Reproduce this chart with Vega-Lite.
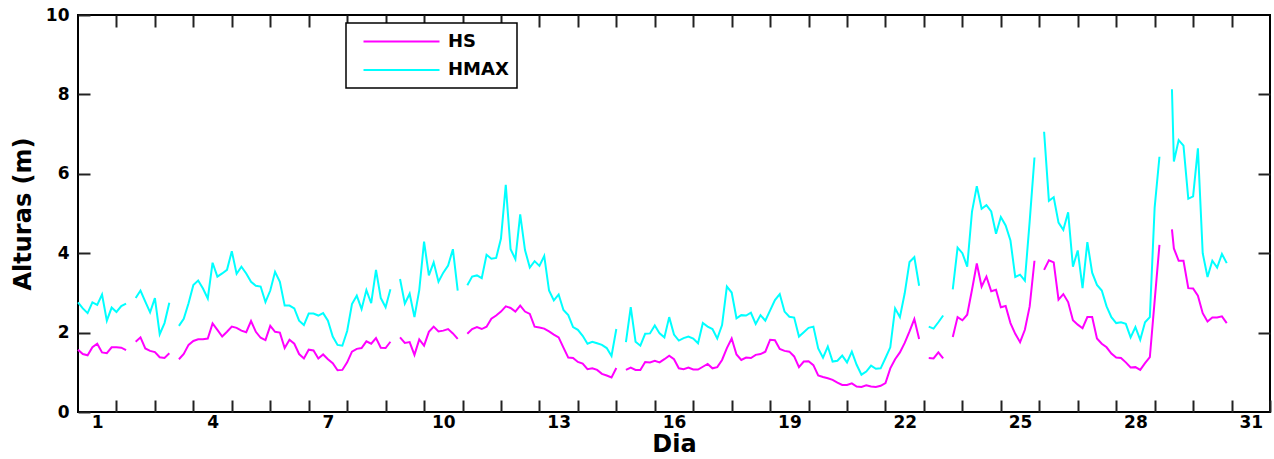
{
"$schema": "https://vega.github.io/schema/vega-lite/v6.json",
"width": 1192, "height": 397,
"autosize": {"type": "none"},
"padding": {"left": 78, "top": 15, "right": 4, "bottom": 47},
"background": "white",
"config": {
 "view": {"stroke": "black", "strokeWidth": 2},
 "font": "DejaVu Sans",
 "axis": {"ticks": true, "labelFont": "DejaVu Sans", "labelFontWeight": "bold", "labelFontSize": 17, "labelColor": "black", "tickColor": "#222222", "tickWidth": 2, "titleFont": "DejaVu Sans", "titleFontWeight": "bold", "titleFontSize": 24, "titleColor": "black", "grid": false, "domain": false}
},
"data": {"values": [
{"t":0.5,"g":1,"HS":1.57,"HMAX":2.76},{"t":0.625,"g":1,"HS":1.46,"HMAX":2.61},{"t":0.75,"g":1,"HS":1.43,"HMAX":2.49},{"t":0.875,"g":1,"HS":1.63,"HMAX":2.76},{"t":1.0,"g":1,"HS":1.72,"HMAX":2.70},{"t":1.125,"g":1,"HS":1.50,"HMAX":2.96},{"t":1.25,"g":1,"HS":1.48,"HMAX":2.30},{"t":1.375,"g":1,"HS":1.63,"HMAX":2.63},{"t":1.5,"g":1,"HS":1.63,"HMAX":2.52},{"t":1.625,"g":1,"HS":1.62,"HMAX":2.67},{"t":1.75,"g":1,"HS":1.56,"HMAX":2.73},
{"t":2.0,"g":2,"HS":1.77,"HMAX":2.87},{"t":2.125,"g":2,"HS":1.88,"HMAX":3.06},{"t":2.25,"g":2,"HS":1.60,"HMAX":2.78},{"t":2.375,"g":2,"HS":1.54,"HMAX":2.51},{"t":2.5,"g":2,"HS":1.51,"HMAX":2.87},{"t":2.625,"g":2,"HS":1.38,"HMAX":1.96},{"t":2.75,"g":2,"HS":1.36,"HMAX":2.24},{"t":2.875,"g":2,"HS":1.48,"HMAX":2.75},
{"t":3.125,"g":3,"HS":1.33,"HMAX":2.17},{"t":3.25,"g":3,"HS":1.46,"HMAX":2.35},{"t":3.375,"g":3,"HS":1.69,"HMAX":2.74},{"t":3.5,"g":3,"HS":1.79,"HMAX":3.20},{"t":3.625,"g":3,"HS":1.83,"HMAX":3.31},{"t":3.75,"g":3,"HS":1.83,"HMAX":3.11},{"t":3.875,"g":3,"HS":1.85,"HMAX":2.86},{"t":4.0,"g":3,"HS":2.23,"HMAX":3.76},{"t":4.125,"g":3,"HS":2.07,"HMAX":3.41},{"t":4.25,"g":3,"HS":1.90,"HMAX":3.49},{"t":4.375,"g":3,"HS":2.02,"HMAX":3.58},{"t":4.5,"g":3,"HS":2.15,"HMAX":4.05},{"t":4.625,"g":3,"HS":2.12,"HMAX":3.48},{"t":4.75,"g":3,"HS":2.05,"HMAX":3.66},{"t":4.875,"g":3,"HS":2.01,"HMAX":3.49},{"t":5.0,"g":3,"HS":2.29,"HMAX":3.28},{"t":5.125,"g":3,"HS":2.02,"HMAX":3.18},{"t":5.25,"g":3,"HS":1.87,"HMAX":3.16},{"t":5.375,"g":3,"HS":1.81,"HMAX":2.77},{"t":5.5,"g":3,"HS":2.17,"HMAX":3.06},{"t":5.625,"g":3,"HS":2.02,"HMAX":3.53},{"t":5.75,"g":3,"HS":2.00,"HMAX":3.28},{"t":5.875,"g":3,"HS":1.61,"HMAX":2.68},{"t":6.0,"g":3,"HS":1.82,"HMAX":2.68},{"t":6.125,"g":3,"HS":1.72,"HMAX":2.61},{"t":6.25,"g":3,"HS":1.46,"HMAX":2.30},{"t":6.375,"g":3,"HS":1.35,"HMAX":2.19},{"t":6.5,"g":3,"HS":1.57,"HMAX":2.48},{"t":6.625,"g":3,"HS":1.55,"HMAX":2.48},{"t":6.75,"g":3,"HS":1.35,"HMAX":2.43},{"t":6.875,"g":3,"HS":1.45,"HMAX":2.49},{"t":7.0,"g":3,"HS":1.33,"HMAX":2.30},{"t":7.125,"g":3,"HS":1.23,"HMAX":1.90},{"t":7.25,"g":3,"HS":1.05,"HMAX":1.69},{"t":7.375,"g":3,"HS":1.06,"HMAX":1.67},{"t":7.5,"g":3,"HS":1.25,"HMAX":2.04},{"t":7.625,"g":3,"HS":1.52,"HMAX":2.72},{"t":7.75,"g":3,"HS":1.59,"HMAX":2.93},{"t":7.875,"g":3,"HS":1.61,"HMAX":2.59},{"t":8.0,"g":3,"HS":1.78,"HMAX":3.07},{"t":8.125,"g":3,"HS":1.72,"HMAX":2.74},{"t":8.25,"g":3,"HS":1.86,"HMAX":3.58},{"t":8.375,"g":3,"HS":1.62,"HMAX":2.87},{"t":8.5,"g":3,"HS":1.61,"HMAX":2.64},{"t":8.625,"g":3,"HS":1.77,"HMAX":3.09},
{"t":8.875,"g":4,"HS":1.88,"HMAX":3.35},{"t":9.0,"g":4,"HS":1.74,"HMAX":2.73},{"t":9.125,"g":4,"HS":1.76,"HMAX":2.98},{"t":9.25,"g":4,"HS":1.44,"HMAX":2.39},{"t":9.375,"g":4,"HS":1.83,"HMAX":3.07},{"t":9.5,"g":4,"HS":1.67,"HMAX":4.29},{"t":9.625,"g":4,"HS":2.02,"HMAX":3.44},{"t":9.75,"g":4,"HS":2.15,"HMAX":3.77},{"t":9.875,"g":4,"HS":2.03,"HMAX":3.28},{"t":10.0,"g":4,"HS":2.05,"HMAX":3.51},{"t":10.125,"g":4,"HS":2.09,"HMAX":3.69},{"t":10.25,"g":4,"HS":1.98,"HMAX":4.10},{"t":10.375,"g":4,"HS":1.84,"HMAX":3.06},
{"t":10.625,"g":5,"HS":1.97,"HMAX":3.19},{"t":10.75,"g":5,"HS":2.09,"HMAX":3.41},{"t":10.875,"g":5,"HS":2.14,"HMAX":3.44},{"t":11.0,"g":5,"HS":2.09,"HMAX":3.37},{"t":11.125,"g":5,"HS":2.15,"HMAX":3.96},{"t":11.25,"g":5,"HS":2.35,"HMAX":3.86},{"t":11.375,"g":5,"HS":2.43,"HMAX":3.88},{"t":11.5,"g":5,"HS":2.53,"HMAX":4.37},{"t":11.625,"g":5,"HS":2.66,"HMAX":5.72},{"t":11.75,"g":5,"HS":2.62,"HMAX":4.10},{"t":11.875,"g":5,"HS":2.53,"HMAX":3.85},{"t":12.0,"g":5,"HS":2.68,"HMAX":4.98},{"t":12.125,"g":5,"HS":2.53,"HMAX":4.08},{"t":12.25,"g":5,"HS":2.47,"HMAX":3.64},{"t":12.375,"g":5,"HS":2.15,"HMAX":3.80},{"t":12.5,"g":5,"HS":2.13,"HMAX":3.68},{"t":12.625,"g":5,"HS":2.10,"HMAX":3.93},{"t":12.75,"g":5,"HS":2.03,"HMAX":3.06},{"t":12.875,"g":5,"HS":1.95,"HMAX":2.81},{"t":13.0,"g":5,"HS":1.88,"HMAX":2.96},{"t":13.125,"g":5,"HS":1.62,"HMAX":2.57},{"t":13.25,"g":5,"HS":1.37,"HMAX":2.44},{"t":13.375,"g":5,"HS":1.36,"HMAX":2.14},{"t":13.5,"g":5,"HS":1.26,"HMAX":2.07},{"t":13.625,"g":5,"HS":1.22,"HMAX":1.92},{"t":13.75,"g":5,"HS":1.08,"HMAX":1.72},{"t":13.875,"g":5,"HS":1.10,"HMAX":1.77},{"t":14.0,"g":5,"HS":1.06,"HMAX":1.73},{"t":14.125,"g":5,"HS":0.96,"HMAX":1.69},{"t":14.25,"g":5,"HS":0.92,"HMAX":1.61},{"t":14.375,"g":5,"HS":0.87,"HMAX":1.41},{"t":14.5,"g":5,"HS":1.11,"HMAX":2.09},
{"t":14.75,"g":6,"HS":1.06,"HMAX":1.76},{"t":14.875,"g":6,"HS":1.12,"HMAX":2.64},{"t":15.0,"g":6,"HS":1.06,"HMAX":1.77},{"t":15.125,"g":6,"HS":1.06,"HMAX":1.67},{"t":15.25,"g":6,"HS":1.26,"HMAX":1.97},{"t":15.375,"g":6,"HS":1.25,"HMAX":1.98},{"t":15.5,"g":6,"HS":1.29,"HMAX":2.18},{"t":15.625,"g":6,"HS":1.25,"HMAX":1.98},{"t":15.75,"g":6,"HS":1.33,"HMAX":1.88},{"t":15.875,"g":6,"HS":1.42,"HMAX":2.39},{"t":16.0,"g":6,"HS":1.33,"HMAX":1.95},{"t":16.125,"g":6,"HS":1.10,"HMAX":1.80},{"t":16.25,"g":6,"HS":1.08,"HMAX":1.86},{"t":16.375,"g":6,"HS":1.12,"HMAX":1.90},{"t":16.5,"g":6,"HS":1.07,"HMAX":1.85},{"t":16.625,"g":6,"HS":1.07,"HMAX":1.73},{"t":16.75,"g":6,"HS":1.14,"HMAX":2.24},{"t":16.875,"g":6,"HS":1.21,"HMAX":2.15},{"t":17.0,"g":6,"HS":1.10,"HMAX":2.09},{"t":17.125,"g":6,"HS":1.13,"HMAX":1.85},{"t":17.25,"g":6,"HS":1.31,"HMAX":2.19},{"t":17.375,"g":6,"HS":1.61,"HMAX":3.16},{"t":17.5,"g":6,"HS":1.85,"HMAX":3.01},{"t":17.625,"g":6,"HS":1.45,"HMAX":2.36},{"t":17.75,"g":6,"HS":1.31,"HMAX":2.44},{"t":17.875,"g":6,"HS":1.37,"HMAX":2.43},{"t":18.0,"g":6,"HS":1.36,"HMAX":2.50},{"t":18.125,"g":6,"HS":1.44,"HMAX":2.22},{"t":18.25,"g":6,"HS":1.46,"HMAX":2.44},{"t":18.375,"g":6,"HS":1.52,"HMAX":2.30},{"t":18.5,"g":6,"HS":1.82,"HMAX":2.56},{"t":18.625,"g":6,"HS":1.81,"HMAX":2.82},{"t":18.75,"g":6,"HS":1.59,"HMAX":2.97},{"t":18.875,"g":6,"HS":1.54,"HMAX":2.53},{"t":19.0,"g":6,"HS":1.52,"HMAX":2.40},{"t":19.125,"g":6,"HS":1.40,"HMAX":2.38},{"t":19.25,"g":6,"HS":1.13,"HMAX":1.90},{"t":19.375,"g":6,"HS":1.27,"HMAX":2.01},{"t":19.5,"g":6,"HS":1.28,"HMAX":2.12},{"t":19.625,"g":6,"HS":1.18,"HMAX":2.15},{"t":19.75,"g":6,"HS":0.92,"HMAX":1.60},{"t":19.875,"g":6,"HS":0.88,"HMAX":1.37},{"t":20.0,"g":6,"HS":0.85,"HMAX":1.65},{"t":20.125,"g":6,"HS":0.81,"HMAX":1.27},{"t":20.25,"g":6,"HS":0.74,"HMAX":1.29},{"t":20.375,"g":6,"HS":0.68,"HMAX":1.42},{"t":20.5,"g":6,"HS":0.68,"HMAX":1.25},{"t":20.625,"g":6,"HS":0.72,"HMAX":1.52},{"t":20.75,"g":6,"HS":0.64,"HMAX":1.19},{"t":20.875,"g":6,"HS":0.63,"HMAX":0.94},{"t":21.0,"g":6,"HS":0.67,"HMAX":1.02},{"t":21.125,"g":6,"HS":0.64,"HMAX":1.17},{"t":21.25,"g":6,"HS":0.63,"HMAX":1.09},{"t":21.375,"g":6,"HS":0.66,"HMAX":1.10},{"t":21.5,"g":6,"HS":0.73,"HMAX":1.36},{"t":21.625,"g":6,"HS":1.10,"HMAX":1.63},{"t":21.75,"g":6,"HS":1.33,"HMAX":2.61},{"t":21.875,"g":6,"HS":1.50,"HMAX":2.39},{"t":22.0,"g":6,"HS":1.74,"HMAX":2.99},{"t":22.125,"g":6,"HS":2.03,"HMAX":3.78},{"t":22.25,"g":6,"HS":2.34,"HMAX":3.90},{"t":22.375,"g":6,"HS":1.84,"HMAX":3.18},
{"t":22.625,"g":7,"HS":1.36,"HMAX":2.15},{"t":22.75,"g":7,"HS":1.35,"HMAX":2.10},{"t":22.875,"g":7,"HS":1.50,"HMAX":2.26},{"t":23.0,"g":7,"HS":1.35,"HMAX":2.43},
{"t":23.25,"g":8,"HS":1.89,"HMAX":3.09},{"t":23.375,"g":8,"HS":2.39,"HMAX":4.14},{"t":23.5,"g":8,"HS":2.31,"HMAX":4.00},{"t":23.625,"g":8,"HS":2.45,"HMAX":3.66},{"t":23.75,"g":8,"HS":3.08,"HMAX":5.05},{"t":23.875,"g":8,"HS":3.74,"HMAX":5.69},{"t":24.0,"g":8,"HS":3.16,"HMAX":5.12},{"t":24.125,"g":8,"HS":3.41,"HMAX":5.21},{"t":24.25,"g":8,"HS":3.04,"HMAX":5.05},{"t":24.375,"g":8,"HS":3.08,"HMAX":4.49},{"t":24.5,"g":8,"HS":2.64,"HMAX":4.91},{"t":24.625,"g":8,"HS":2.67,"HMAX":4.70},{"t":24.75,"g":8,"HS":2.24,"HMAX":4.32},{"t":24.875,"g":8,"HS":1.97,"HMAX":3.40},{"t":25.0,"g":8,"HS":1.76,"HMAX":3.46},{"t":25.125,"g":8,"HS":2.07,"HMAX":3.31},{"t":25.25,"g":8,"HS":2.66,"HMAX":4.80},{"t":25.375,"g":8,"HS":3.81,"HMAX":6.41},
{"t":25.625,"g":9,"HS":3.58,"HMAX":7.06},{"t":25.75,"g":9,"HS":3.82,"HMAX":5.32},{"t":25.875,"g":9,"HS":3.77,"HMAX":5.41},{"t":26.0,"g":9,"HS":2.83,"HMAX":4.77},{"t":26.125,"g":9,"HS":2.97,"HMAX":4.59},{"t":26.25,"g":9,"HS":2.77,"HMAX":5.03},{"t":26.375,"g":9,"HS":2.31,"HMAX":3.66},{"t":26.5,"g":9,"HS":2.20,"HMAX":4.07},{"t":26.625,"g":9,"HS":2.11,"HMAX":3.12},{"t":26.75,"g":9,"HS":2.39,"HMAX":4.28},{"t":26.875,"g":9,"HS":2.39,"HMAX":3.51},{"t":27.0,"g":9,"HS":1.85,"HMAX":3.20},{"t":27.125,"g":9,"HS":1.72,"HMAX":3.06},{"t":27.25,"g":9,"HS":1.63,"HMAX":2.66},{"t":27.375,"g":9,"HS":1.47,"HMAX":2.39},{"t":27.5,"g":9,"HS":1.37,"HMAX":2.24},{"t":27.625,"g":9,"HS":1.36,"HMAX":2.26},{"t":27.75,"g":9,"HS":1.25,"HMAX":2.22},{"t":27.875,"g":9,"HS":1.12,"HMAX":1.88},{"t":28.0,"g":9,"HS":1.13,"HMAX":2.14},{"t":28.125,"g":9,"HS":1.06,"HMAX":1.82},{"t":28.25,"g":9,"HS":1.23,"HMAX":2.26},{"t":28.375,"g":9,"HS":1.38,"HMAX":2.39},{"t":28.5,"g":9,"HS":2.80,"HMAX":5.15},{"t":28.625,"g":9,"HS":4.21,"HMAX":6.43},
{"t":28.95,"g":10,"HS":4.60,"HMAX":8.13},{"t":29.0,"g":10,"HS":4.12,"HMAX":6.31},{"t":29.125,"g":10,"HS":3.81,"HMAX":6.85},{"t":29.25,"g":10,"HS":3.81,"HMAX":6.71},{"t":29.375,"g":10,"HS":3.12,"HMAX":5.37},{"t":29.5,"g":10,"HS":3.11,"HMAX":5.43},{"t":29.625,"g":10,"HS":2.93,"HMAX":6.64},{"t":29.75,"g":10,"HS":2.49,"HMAX":4.00},{"t":29.875,"g":10,"HS":2.28,"HMAX":3.40},{"t":30.0,"g":10,"HS":2.38,"HMAX":3.81},{"t":30.125,"g":10,"HS":2.38,"HMAX":3.64},{"t":30.25,"g":10,"HS":2.41,"HMAX":3.98},{"t":30.375,"g":10,"HS":2.24,"HMAX":3.75}
]},
"transform": [{"fold": ["HS", "HMAX"], "as": ["serie", "altura"]}],
"layer": [
 {
  "mark": {"type": "line", "strokeWidth": 2},
  "encoding": {
   "x": {"field": "t", "type": "quantitative", "scale": {"domain": [0.5, 31.5], "nice": false, "zero": false},
    "axis": {"orient": "bottom", "title": "Dia", "titlePadding": 2, "offset": -12,
     "values": [1.5,2.5,3.5,4.5,5.5,6.5,7.5,8.5,9.5,10.5,11.5,12.5,13.5,14.5,15.5,16.5,17.5,18.5,19.5,20.5,21.5,22.5,23.5,24.5,25.5,26.5,27.5,28.5,29.5,30.5,31.5],
     "tickSize": 12,
     "labelExpr": "indexof([1.5,4.5,7.5,10.5,13.5,16.5,19.5,22.5,25.5,28.5,31.5], datum.value) >= 0 ? '' + (datum.value - 0.5) : ''",
     "labelOffset": -19.2,
     "labelPadding": 2, "labelOverlap": false, "labelFlush": false, "labelBound": false}},
   "y": {"field": "altura", "type": "quantitative", "scale": {"domain": [0, 10], "nice": false},
    "axis": {"orient": "left", "title": "Alturas (m)", "values": [0,2,4,6,8,10], "offset": -12, "tickSize": 12, "labelPadding": 9, "titlePadding": 10}},
   "color": {"field": "serie", "type": "nominal", "sort": ["HS", "HMAX"],
    "scale": {"domain": ["HS", "HMAX"], "range": ["#ff00ff", "#00ffff"]},
    "legend": {"orient": "none", "legendX": 268, "legendY": 8, "title": null, "symbolType": "M-4,0H4", "symbolSize": 361, "symbolStrokeWidth": 2, "symbolOffset": 37, "labelOffset": 36, "labelFont": "DejaVu Sans", "labelFontSize": 18, "labelFontWeight": "bold", "labelColor": "black", "strokeColor": "black", "fillColor": "white", "padding": 8, "rowPadding": 8.6,
     "encode": {"legend": {"update": {"strokeWidth": {"value": 1.5}}}}}},
   "detail": {"field": "g", "type": "nominal"}
  }
 },
 {
  "mark": {"type": "line", "opacity": 0},
  "encoding": {
   "x": {"field": "t", "type": "quantitative",
    "axis": {"orient": "top", "title": null, "labels": false, "tickSize": 12, "offset": -12,
     "values": [1.5,2.5,3.5,4.5,5.5,6.5,7.5,8.5,9.5,10.5,11.5,12.5,13.5,14.5,15.5,16.5,17.5,18.5,19.5,20.5,21.5,22.5,23.5,24.5,25.5,26.5,27.5,28.5,29.5,30.5]}},
   "y": {"field": "altura", "type": "quantitative",
    "axis": {"orient": "right", "title": null, "labels": false, "tickSize": 12, "offset": -12, "values": [2,4,6,8]}},
   "detail": {"field": "g", "type": "nominal"}
  }
 }
],
"resolve": {"axis": {"x": "independent", "y": "independent"}}
}
